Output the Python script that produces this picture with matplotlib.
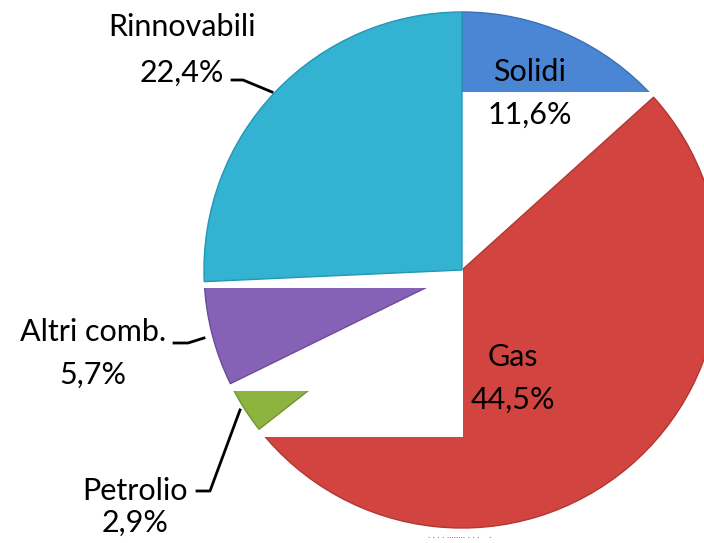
import matplotlib.pyplot as plt
from matplotlib.patches import Rectangle

# dati del grafico (quote %)
categorie = ['Solidi', 'Gas', 'Petrolio', 'Altri comb.', 'Rinnovabili']
valori = [11.6, 44.5, 2.9, 5.7, 22.4]
etichette = ['11,6%', '44,5%', '2,9%', '5,7%', '22,4%']
colori = ['#4a86d4', '#d2443f', '#8cb43e', '#8662b6', '#33b2d2']
bordi = ['#3a70b8', '#b03834', '#6f9630', '#6a4c9a', '#2596b4']

H = 543
plt.rcParams['font.family'] = ['Lato', 'DejaVu Sans']

fig = plt.figure(figsize=(7.04, 5.43), dpi=100)
ax = fig.add_axes([0, 0, 1, 1])

# coordinate in pixel (y verso l'alto)
wedges, _ = ax.pie(valori, startangle=90, counterclock=False,
                   center=(462, H - 270), radius=258,
                   explode=[0.012, 0, 0, 0, 0],
                   colors=colori, frame=True,
                   wedgeprops=dict(linewidth=1.0))
for w, b in zip(wedges, bordi):
    w.set_edgecolor(b)


def bianco(x0, y0, x1, y1, z):
    # rettangolo bianco in pixel (y0 in alto, y1 in basso)
    ax.add_patch(Rectangle((x0, H - y1), x1 - x0, y1 - y0, facecolor='white',
                           edgecolor='none', zorder=z))


# ordine di disegno e ritagli come nell'originale
wedges[0].set_zorder(1)
bianco(462, 92, 672, 270, 2)
wedges[1].set_zorder(3)
bianco(190, 270, 463, 437, 4)
wedges[2].set_zorder(5)
bianco(190, 270, 463, 391, 5.2)
wedges[3].set_zorder(5.5)
bianco(190, 268, 463, 288, 6)
wedges[4].set_zorder(7)

ax.set_xlim(0, 704)
ax.set_ylim(0, H)
ax.set_aspect('equal')
ax.axis('off')

fs = 22
testi = [
    (categorie[0], etichette[0], 530, 72, 115),
    (categorie[1], etichette[1], 513, 357, 400),
    (categorie[2], etichette[2], 135, 491, 523),
    (categorie[3], etichette[3], 93, 332, 375),
    (categorie[4], etichette[4], 182, 27, 73),
]
for nome, perc, x, y1, y2 in testi:
    ax.text(x, H - y1, nome, ha='center', va='center', fontsize=fs, zorder=10)
    ax.text(x, H - y2, perc, ha='center', va='center', fontsize=fs, zorder=10)

# linee guida
linee = [
    ([232, 243, 272], [80, 80, 92]),
    ([174, 188, 204], [343, 343, 338]),
    ([197, 210, 240], [491, 491, 410]),
]
for xs, ys in linee:
    ax.plot(xs, [H - v for v in ys], color='black', lw=2, zorder=10)

ax.text(460, H - 536, '. . . . ........ . . .    .', ha='center', va='center',
        fontsize=7, color='#444444', zorder=10)

fig.savefig('out.png', dpi=100)
